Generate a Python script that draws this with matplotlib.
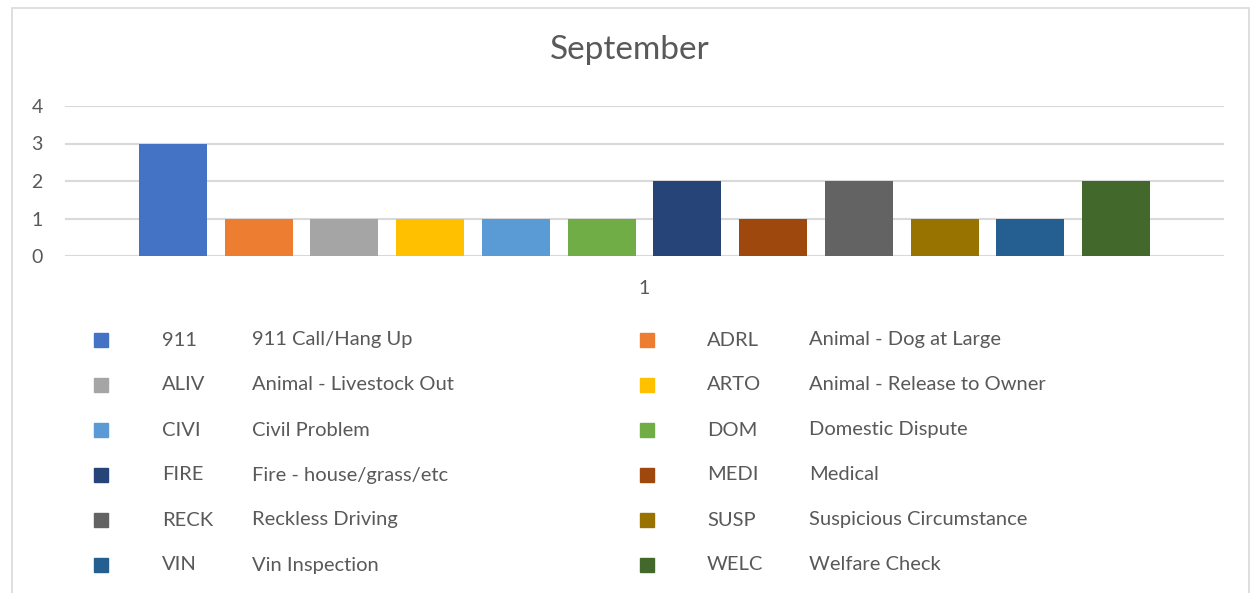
import numpy as np
import matplotlib.pyplot as plt
from matplotlib.patches import Rectangle

plt.rcParams['font.family'] = ['Lato', 'DejaVu Sans']

# chart data
title = 'September'
category = ['1']
codes = ['911', 'ADRL', 'ALIV', 'ARTO', 'CIVI', 'DOM',
         'FIRE', 'MEDI', 'RECK', 'SUSP', 'VIN', 'WELC']
descriptions = ['911 Call/Hang Up', 'Animal - Dog at Large', 'Animal - Livestock Out',
                'Animal - Release to Owner', 'Civil Problem', 'Domestic Dispute',
                'Fire - house/grass/etc', 'Medical', 'Reckless Driving',
                'Suspicious Circumstance', 'Vin Inspection', 'Welfare Check']
counts = [3, 1, 1, 1, 1, 1, 2, 1, 2, 1, 1, 2]
colors = ['#4472C4', '#ED7D31', '#A5A5A5', '#FFC000', '#5B9BD5', '#70AD47',
          '#264478', '#9E480E', '#636363', '#997300', '#255E91', '#43682B']
yticks = [0, 1, 2, 3, 4]

W, H = 1257, 593
txt = '#595959'
grid = '#D9D9D9'

fig = plt.figure(figsize=(W / 100, H / 100), dpi=100)

# outer chart frame (bottom edge is cut off in the original)
fig.patches.append(Rectangle((12 / W, -0.05), 1237 / W, (H - 8) / H + 0.05,
                             transform=fig.transFigure, fill=False,
                             edgecolor=grid, linewidth=1.2))

ax = fig.add_axes([65 / W, (H - 256) / H, 1159 / W, 150 / H])
n = len(codes)
pitch = 0.074
width = 0.0587
offsets = (np.arange(n) - (n - 1) / 2) * pitch
for i in range(n):
    ax.bar(offsets[i], counts[i], width=width, color=colors[i], zorder=3)

ax.set_xlim(-0.5, 0.5)
ax.set_ylim(0, 4)
ax.set_yticks(yticks)
ax.set_xticks([0])
ax.set_xticklabels(category)
ax.yaxis.grid(True, color=grid, linewidth=1.5, zorder=0)
for s in ax.spines.values():
    s.set_visible(False)
ax.tick_params(axis='both', length=0, colors=txt, labelsize=14)
ax.tick_params(axis='y', pad=16)
ax.tick_params(axis='x', pad=17)

fig.text(630 / W, 1 - 50 / H, title, ha='center', va='center',
         fontsize=24, color=txt)

# legend laid out as in the original: two columns, code + description
col_marker = [94, 640]
col_code = [162, 707]
col_desc = [252, 809]
row_y0 = 340
row_step = 45
for i in range(n):
    c = i % 2
    r = i // 2
    yc = 1 - (row_y0 + r * row_step) / H
    fig.patches.append(Rectangle((col_marker[c] / W, yc - 7 / H), 14 / W, 14 / H,
                                 transform=fig.transFigure, color=colors[i]))
    fig.text(col_code[c] / W, yc, codes[i], ha='left', va='center',
             fontsize=14.5, color=txt)
    fig.text(col_desc[c] / W, yc, descriptions[i], ha='left', va='center',
             fontsize=14.5, color=txt)

fig.savefig('out.png', dpi=100)
